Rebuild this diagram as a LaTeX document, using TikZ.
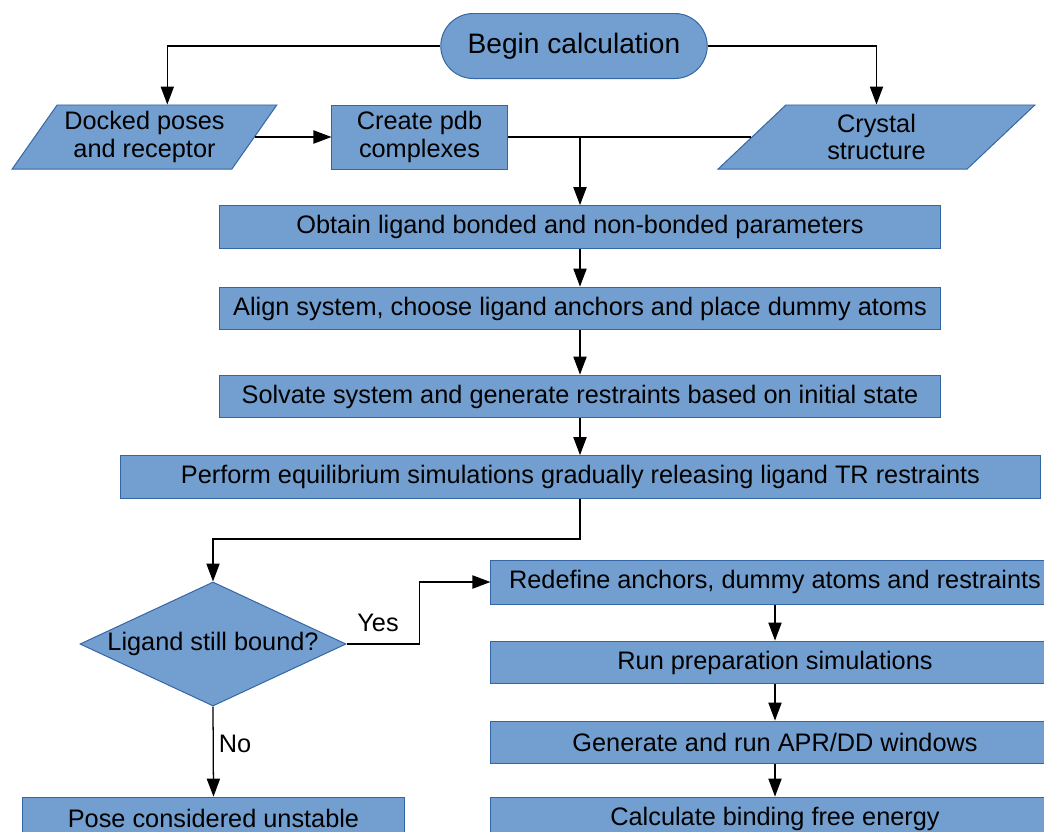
\documentclass[tikz,border=0pt]{standalone}
\usepackage{fontspec}
\setmainfont{Liberation Sans}
\usetikzlibrary{shapes.geometric,shapes.misc,arrows.meta}
\definecolor{boxfill}{HTML}{729FCF}
\definecolor{boxline}{HTML}{3465A4}

\begin{document}
\begin{tikzpicture}[x=0.025cm, y=-0.025cm,
	every node/.style = {font=\fontsize{18}{19.5}\selectfont, text=black},
	box/.style = {draw=boxline, fill=boxfill, line width=0.7pt, inner sep=2pt, align=center},
	procbox/.style = {box, rectangle, minimum height=1.07cm},
	iobox/.style = {box, trapezium, trapezium left angle=53, trapezium right angle=127,
		trapezium stretches=true, minimum height=1.6cm},
	arr/.style = {-{Triangle[length=0.45cm, width=0.33cm]}, line width=0.9pt}]
	\useasboundingbox (0,0) rectangle (1044,831);
	\clip (0,0) rectangle (1044,831);
	% top row
	\node [box, rounded rectangle, minimum width=6.8cm, minimum height=1.625cm,
		font=\fontsize{20}{24}\selectfont] (begin) at (574,46) {Begin calculation};
	\node [iobox, minimum width=6.625cm] (docked) at (144.5,137) {Docked poses\\and receptor};
	\node [procbox, minimum width=4.375cm, minimum height=1.6cm] (create) at (419.5,137) {Create pdb\\complexes};
	\node [iobox, minimum width=7.925cm] (crystal) at (876.5,137) {Crystal\\structure};
	% main column
	\node [procbox, minimum width=18.025cm] (obtain) at (580,227) {Obtain ligand bonded and non-bonded parameters};
	\node [procbox, minimum width=18.025cm] (align) at (580,308.5) {Align system, choose ligand anchors and place dummy atoms};
	\node [procbox, minimum width=18.025cm] (solvate) at (580,396.5) {Solvate system and generate restraints based on initial state};
	\node [procbox, minimum width=22.975cm] (perform) at (580.5,477) {Perform equilibrium simulations gradually releasing ligand TR restraints};
	% decision
	\node [box, diamond, shape aspect=2.15, minimum width=6.65cm, minimum height=3.1cm, inner sep=0pt] (bound) at (213,644) {Ligand still bound?};
	\node [procbox, minimum width=9.525cm] (pose) at (213.5,818.5) {Pose considered unstable};
	% right column
	\node [procbox, minimum width=14.2cm, minimum height=1.1cm] (redefine) at (775,582) {Redefine anchors, dummy atoms and restraints};
	\node [procbox, minimum width=14.2cm] (run) at (775,662.5) {Run preparation simulations};
	\node [procbox, minimum width=14.2cm] (generate) at (775,742.5) {Generate and run APR/DD windows};
	\node [procbox, minimum width=14.2cm] (calc) at (775,818.5) {Calculate binding free energy};
	% connectors
	\draw [arr] (begin.west) -| (docked.top side);
	\draw [arr] (begin.east) -| (crystal.center |- crystal.top side);
	\draw [arr] (docked.right side) -- (create.west);
	\draw [line width=0.9pt] (create.east) -- (crystal.left side);
	\draw [arr] (create.east -| obtain.north) -- (obtain.north);
	\draw [arr] (obtain.south) -- (align.north);
	\draw [arr] (align.south) -- (solvate.north);
	\draw [arr] (solvate.south) -- (solvate.south |- perform.north);
	\draw [arr] (obtain.south |- perform.south) -- ++(0,40) -| (bound.north);
	\draw [arr] (bound.east) -- ++(73,0) |- (redefine.west);
	\node (yes) at (378,623) {Yes};
	\draw [arr] (bound.south) -- (pose.north);
	\node (no) at (235,744) {No};
	\draw [arr] (redefine) -- (run);
	\draw [arr] (run) -- (generate);
	\draw [arr] (generate) -- (calc);
\end{tikzpicture}
\end{document}
